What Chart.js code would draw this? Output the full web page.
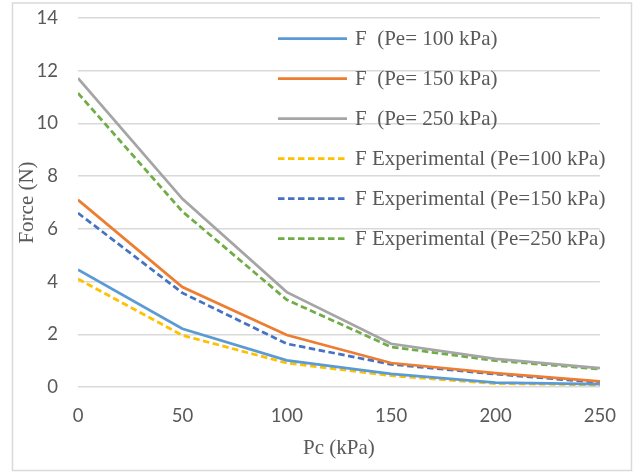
<!DOCTYPE html>
<html>
<head>
<meta charset="utf-8">
<script src="https://cdn.jsdelivr.net/npm/chart.js@4/dist/chart.umd.min.js"></script>
<style>
  html, body { margin: 0; padding: 0; background: #ffffff; }
  #wrap { width: 634px; height: 472px; }
</style>
</head>
<body>
<div id="wrap"><canvas id="c" width="634" height="472"></canvas></div>
<script>
// Confining pressure Pc (kPa)
const pc = [0, 50, 100, 150, 200, 250];

// Computed force (N) for each Pe
const fPe100 = [4.45, 2.21, 1.01, 0.50, 0.17, 0.11];
const fPe150 = [7.10, 3.79, 1.97, 0.91, 0.53, 0.21];
const fPe250 = [11.72, 7.14, 3.60, 1.64, 1.07, 0.72];

// Measured force (N) for each Pe
const fExp100 = [4.10, 1.96, 0.91, 0.43, 0.13, 0.08];
const fExp150 = [6.60, 3.57, 1.64, 0.86, 0.49, 0.17];
const fExp250 = [11.15, 6.66, 3.31, 1.52, 1.00, 0.68];

const seriesLabels = [
  'F  (Pe= 100 kPa)',
  'F  (Pe= 150 kPa)',
  'F  (Pe= 250 kPa)',
  'F Experimental (Pe=100 kPa)',
  'F Experimental (Pe=150 kPa)',
  'F Experimental (Pe=250 kPa)'
];

const yTicks = [0, 2, 4, 6, 8, 10, 12, 14];
const xTicks = [0, 50, 100, 150, 200, 250];

const GREY_TEXT = '#595959';
const GRID = '#d9d9d9';
const DASH = [6.5, 3.5];

function pts(values) {
  return values.map((v, i) => ({ x: pc[i], y: v }));
}

function line(label, values, color, dashed) {
  return {
    label: label,
    data: pts(values),
    borderColor: color,
    backgroundColor: color,
    borderWidth: 2.75,
    borderDash: dashed ? DASH : [],
    pointRadius: 0,
    pointHoverRadius: 0,
    tension: 0,
    fill: false
  };
}

// Light frame around the whole figure
const framePlugin = {
  id: 'frame',
  beforeDraw(chart) {
    const ctx = chart.ctx;
    ctx.save();
    ctx.fillStyle = '#ffffff';
    ctx.fillRect(0, 0, chart.width, chart.height);
    ctx.strokeStyle = GRID;
    ctx.lineWidth = 1.5;
    ctx.strokeRect(12.5, 3, 619, 467.5);
    ctx.restore();
  }
};

// Legend drawn inside the plot, upper right
const insideLegend = {
  id: 'insideLegend',
  afterDraw(chart) {
    const ctx = chart.ctx;
    const x0 = 278, x1 = 347, tx = 355, y0 = 38.5, step = 40;
    ctx.save();
    ctx.font = '21px "Liberation Serif", "Times New Roman", serif';
    ctx.textBaseline = 'middle';
    ctx.textAlign = 'left';
    chart.data.datasets.forEach((ds, i) => {
      const y = y0 + i * step;
      ctx.strokeStyle = ds.borderColor;
      ctx.lineWidth = ds.borderWidth;
      ctx.setLineDash(ds.borderDash || []);
      ctx.beginPath();
      ctx.moveTo(x0, y);
      ctx.lineTo(x1, y);
      ctx.stroke();
      ctx.setLineDash([]);
      ctx.fillStyle = GREY_TEXT;
      ctx.fillText(ds.label, tx, y + 1);
    });
    ctx.restore();
  }
};

new Chart(document.getElementById('c'), {
  type: 'line',
  data: {
    datasets: [
      line(seriesLabels[0], fPe100, '#5B9BD5', false),
      line(seriesLabels[1], fPe150, '#ED7D31', false),
      line(seriesLabels[2], fPe250, '#A5A5A5', false),
      line(seriesLabels[3], fExp100, '#FFC000', true),
      line(seriesLabels[4], fExp150, '#4472C4', true),
      line(seriesLabels[5], fExp250, '#70AD47', true)
    ]
  },
  options: {
    responsive: false,
    animation: false,
    events: [],
    layout: { padding: { left: 0, top: 18, right: 34, bottom: 0 } },
    plugins: {
      legend: { display: false },
      tooltip: { enabled: false }
    },
    scales: {
      x: {
        type: 'linear',
        min: 0,
        max: 250,
        afterBuildTicks(scale) { scale.ticks = xTicks.map(v => ({ value: v })); },
        afterFit(scale) { scale.height = 85; },
        grid: { display: false, drawTicks: false },
        border: { display: false },
        ticks: {
          padding: 18,
          color: GREY_TEXT,
          font: { family: 'Lato', size: 18.5 },
          maxRotation: 0
        },
        title: {
          display: true,
          text: 'Pc (kPa)',
          color: GREY_TEXT,
          font: { family: '"Liberation Serif", "Times New Roman", serif', size: 21 },
          padding: { top: 0, bottom: 11 }
        }
      },
      y: {
        min: 0,
        max: 14,
        afterBuildTicks(scale) { scale.ticks = yTicks.map(v => ({ value: v })); },
        afterFit(scale) {
          scale.width = 78;
          scale.paddingTop = 12;
          scale.paddingBottom = 12;
        },
        grid: { color: GRID, lineWidth: 1.5, drawTicks: false },
        border: { display: false },
        ticks: {
          padding: 20,
          color: GREY_TEXT,
          font: { family: 'Lato', size: 18.5 }
        },
        title: {
          display: true,
          text: 'Force (N)',
          color: GREY_TEXT,
          font: { family: '"Liberation Serif", "Times New Roman", serif', size: 21 },
          padding: { top: 15, bottom: 0 }
        }
      }
    }
  },
  plugins: [framePlugin, insideLegend]
});
</script>
</body>
</html>
